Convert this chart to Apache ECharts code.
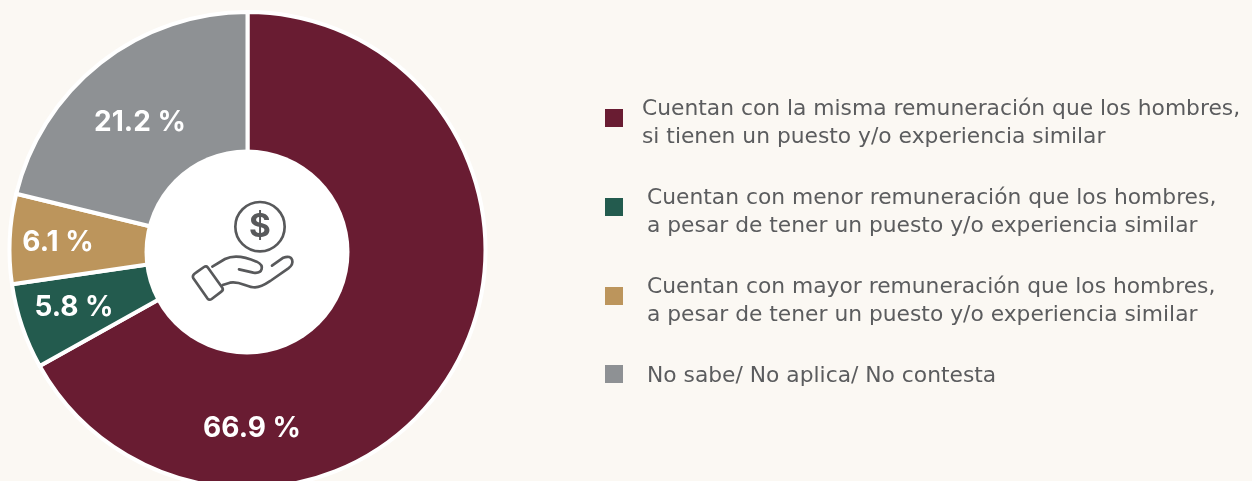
<!DOCTYPE html>
<html><head><meta charset="utf-8">
<style>html,body{margin:0;padding:0;background:#fbf8f3;overflow:hidden}#c{width:1252px;height:481px}</style>
<script src="https://cdn.jsdelivr.net/npm/echarts@6/dist/echarts.min.js"></script>
</head><body><div id="c"></div>
<script>
const categories = [
 'Cuentan con la misma remuneración que los hombres,\nsi tienen un puesto y/o experiencia similar',
 'Cuentan con menor remuneración que los hombres,\na pesar de tener un puesto y/o experiencia similar',
 'Cuentan con mayor remuneración que los hombres,\na pesar de tener un puesto y/o experiencia similar',
 'No sabe/ No aplica/ No contesta'
];
const values = [66.9, 5.8, 6.1, 21.2];
const colors = ['#691c32', '#235b4e', '#bc955c', '#8e9194'];
const labelPos = [[252,429],[74,308],[58,243],[140,123]];
const legendTop = [85,174,263,358];
const legendPad = [14,19,19,19];
const legendLead = [10,10,10,4];
const FONT = 'DejaVu Sans';
const TXT = '#5b5c5e';
const ICON = '#58595b';
const LEG = 21.8;
const chart = echarts.init(document.getElementById('c'));
chart.setOption({
 backgroundColor:'#fbf8f3',
 animation:false,
 legend: categories.map((c,i)=>{
   const base = {fontFamily:FONT,fontSize:LEG,color:TXT,lineHeight:28};
   return {
   data:[c], left:605, top:legendTop[i], orient:'vertical', padding:0,
   icon:'rect', itemWidth:18, itemHeight:18, selectedMode:false,
   itemStyle:{borderWidth:0},
   formatter:n=>'{s| }\n'+n.split('\n').map(s=>`{a|${s}}`).join('\n'),
   textStyle:{...base,padding:[0,0,0,legendPad[i]],rich:{a:base,s:{...base,fontSize:2,lineHeight:legendLead[i]}}}
 };}),
 series:[{
   type:'pie', center:[247.5,250], radius:[94,238], startAngle:90, clockwise:true,
   avoidLabelOverlap:false,
   itemStyle:{borderColor:'#ffffff',borderWidth:4},
   label:{show:true,position:'inside',color:'#fff',fontFamily:'Inter',fontWeight:'bold',fontSize:28,
     formatter:p=>p.value.toFixed(1)+' %'},
   labelLine:{show:false},
   labelLayout:p=>({x:labelPos[p.dataIndex][0],y:labelPos[p.dataIndex][1],align:'center',verticalAlign:'middle'}),
   data:categories.map((c,i)=>({name:c,value:values[i],itemStyle:{color:colors[i]}}))
 },{
   type:'custom', coordinateSystem:'none', silent:true, z:6, data:[0],
   renderItem:()=>({type:'group',x:140,y:150,scaleX:1/3,scaleY:1/3,children:[
     {type:'circle',shape:{cx:360,cy:230,r:74},style:{fill:'none',stroke:ICON,lineWidth:8}},
     {type:'text',style:{x:360,y:232,text:'$',fill:ICON,font:'bold 100px Inter',textAlign:'center',textVerticalAlign:'middle'}},
     {type:'path',shape:{pathData:'M168 368 L192 351 Q199 346 204 353 L247 413 Q251 420 244 425 L215 447 Q208 452 202 445 L160 385 Q155 376 168 368 Z'},style:{fill:'none',stroke:ICON,lineWidth:8,lineJoin:'round'}},
     {type:'path',shape:{pathData:'M217 350 L255 327 C285 312 320 322 350 335 C375 347 368 372 340 368 L297 358 M248 405 L270 398 C300 392 320 412 345 412 C365 412 380 400 395 390 L445 355 C465 340 460 312 430 323 L396 347'},style:{fill:'none',stroke:ICON,lineWidth:8,lineCap:'round',lineJoin:'round'}}
   ]})
 }],
 graphic:[
  {type:'circle',silent:true,z:5,shape:{cx:247,cy:252,r:102.5},style:{fill:'#fff'}}
 ]
});
</script></body></html>
